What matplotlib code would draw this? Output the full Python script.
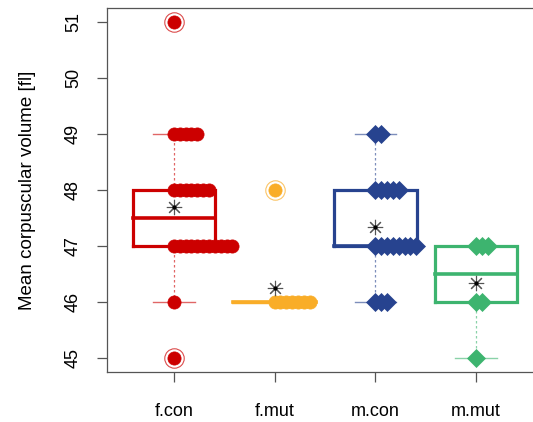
import numpy as np
import matplotlib
matplotlib.use("Agg")
import matplotlib.pyplot as plt

plt.rcParams['font.family'] = ['Liberation Sans', 'DejaVu Sans']

# groups and observed values (value -> count)
groups = ["f.con", "f.mut", "m.con", "m.mut"]
f_con = [45] + [46] + [47] * 11 + [48] * 7 + [49] * 5 + [51]
f_mut = [46] * 7 + [48]
m_con = [46] * 3 + [47] * 8 + [48] * 5 + [49] * 2
m_mut = [45] + [46] * 2 + [47] * 3
data = [f_con, f_mut, m_con, m_mut]

colors = ["#cc0000", "#f9ad28", "#27438f", "#3db46f"]
markers = ["o", "o", "D", "D"]
msizes = [9.5, 9.5, 9.0, 9.0]

fig = plt.figure(figsize=(5.33, 4.22), dpi=100)
ax = fig.add_axes([107 / 533, 50 / 422, 436 / 533, 364 / 422])


def hinges(v):
    # Tukey hinges, like R's fivenum
    v = np.sort(v)
    n = len(v)
    n4 = np.floor((n + 3) / 2) / 2
    d = np.array([1, n4, (n + 1) / 2, n + 1 - n4, n]) - 1
    return 0.5 * (v[np.floor(d).astype(int)] + v[np.ceil(d).astype(int)])


half = 0.41
step = 0.058
for i, (vals, col, mk, ms) in enumerate(zip(data, colors, markers, msizes)):
    x = i + 1
    vals = np.array(vals)
    lo, q1, med, q3, hi = hinges(vals)
    iqr = q3 - q1
    inside = vals[(vals >= q1 - 1.5 * iqr) & (vals <= q3 + 1.5 * iqr)]
    wlo, whi = inside.min(), inside.max()
    out = vals[(vals < q1 - 1.5 * iqr) | (vals > q3 + 1.5 * iqr)]

    # whiskers and staples
    ax.plot([x, x], [wlo, q1], color=col, lw=0.9, ls=(0, (2, 2)), alpha=0.6, zorder=2)
    ax.plot([x, x], [q3, whi], color=col, lw=0.9, ls=(0, (2, 2)), alpha=0.6, zorder=2)
    for w in (wlo, whi):
        ax.plot([x - half / 2, x + half / 2], [w, w], color=col, lw=1.0, alpha=0.6, zorder=2)
    # box
    ax.plot([x - half, x + half, x + half, x - half, x - half], [q1, q1, q3, q3, q1],
            color=col, lw=2.3, zorder=3, solid_joinstyle="miter")
    ax.plot([x - half, x + half], [med, med], color=col, lw=2.6, zorder=3)
    # outlier rings
    for o in out:
        ax.plot(x, o, marker="o", ms=14, mfc="none", mec=col, mew=0.8, alpha=0.7, zorder=4)

    # stacked points
    for v in np.unique(vals):
        k = int((vals == v).sum())
        xs = x + step * np.arange(k)
        ax.plot(xs, [v] * k, ls="none", marker=mk, ms=ms, color=col, mec=col,
                mew=0.5, zorder=5)

    # mean
    m = vals.mean()
    ax.plot(x, m, marker=(8, 2, 0), ms=11, color="#555555", mew=0.8, zorder=6)
    ax.plot(x, m, marker="o", ms=2, color="black", zorder=7)

ax.set_xlim(0.335, 4.665)
ax.set_ylim(44.75, 51.25)
ax.set_xticks(range(1, 5))
ax.set_xticklabels(groups, fontsize=13)
ax.set_yticks(range(45, 52))
ax.set_yticklabels([str(t) for t in range(45, 52)], fontsize=13, rotation=90, va="center")
ax.set_ylabel("Mean corpuscular volume [fl]", fontsize=13.5, labelpad=21)

for s in ax.spines.values():
    s.set_color("#555555")
    s.set_linewidth(0.9)
ax.tick_params(axis="y", direction="out", length=7, width=0.9, color="#555555", pad=11)
ax.tick_params(axis="x", direction="out", length=7, width=0.9, color="#555555", pad=15)

fig.savefig("out.png", dpi=100)
